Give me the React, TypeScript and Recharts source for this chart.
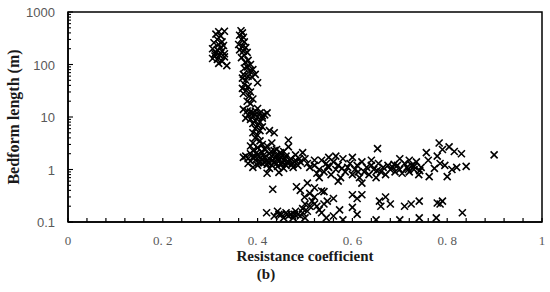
import React from 'react';
import {
  ScatterChart, Scatter, XAxis, YAxis, ReferenceArea,
} from 'recharts';

// [resistance coefficient, bedform length (m)], grouped by cluster
const leftColumn: [number, number][] = [
  [0.318, 420], [0.33, 430], [0.312, 380], [0.322, 350], [0.308, 260], [0.318, 240],
  [0.328, 230], [0.305, 200], [0.315, 190], [0.325, 180], [0.31, 160], [0.32, 150],
  [0.33, 140], [0.305, 130], [0.315, 125], [0.325, 115], [0.318, 105], [0.335, 95],
  [0.33, 160], [0.312, 170], [0.322, 210], [0.31, 145], [0.325, 270], [0.315, 300],
];

const upperColumn: [number, number][] = [
  [0.365, 440], [0.368, 400], [0.362, 360], [0.37, 330], [0.366, 300], [0.372, 270],
  [0.36, 240], [0.368, 220], [0.375, 210], [0.362, 190], [0.37, 180], [0.378, 170],
  [0.372, 150], [0.366, 135], [0.38, 120], [0.374, 110], [0.385, 100], [0.378, 90],
  [0.39, 80], [0.383, 75], [0.395, 65], [0.388, 58], [0.368, 55], [0.375, 50],
  [0.4, 45], [0.372, 42], [0.38, 38], [0.368, 35], [0.376, 32], [0.385, 30],
  [0.37, 28], [0.382, 25], [0.39, 22], [0.378, 20], [0.385, 18], [0.37, 65],
  [0.38, 60], [0.372, 85],
];

const midColumn: [number, number][] = [
  [0.37, 14], [0.378, 13], [0.385, 12.5], [0.395, 13], [0.405, 12], [0.415, 11],
  [0.38, 11], [0.39, 10.5], [0.4, 10], [0.41, 9.5], [0.375, 9.5], [0.385, 9],
  [0.395, 8.5], [0.405, 8], [0.39, 7.5], [0.4, 7], [0.41, 6.5], [0.395, 6],
  [0.405, 5.5], [0.425, 5.5], [0.435, 5], [0.39, 5], [0.4, 4.5], [0.395, 4],
  [0.405, 3.5], [0.39, 3.2], [0.41, 3], [0.385, 2.8], [0.4, 2.6], [0.415, 2.5],
  [0.42, 12], [0.4, 14.5], [0.39, 12], [0.41, 10.5], [0.395, 11],
];

const mainBlob: [number, number][] = [
  [0.375, 1.8], [0.38, 1.6], [0.385, 2.0], [0.39, 2.3], [0.395, 1.5], [0.4, 1.9],
  [0.405, 1.4], [0.41, 2.1], [0.415, 1.7], [0.42, 1.5], [0.425, 2.0], [0.43, 1.8],
  [0.435, 1.4], [0.44, 1.9], [0.445, 1.6], [0.45, 1.7], [0.455, 1.5], [0.46, 1.8],
  [0.465, 1.4], [0.47, 1.6], [0.475, 1.3], [0.48, 1.5], [0.485, 1.2], [0.49, 1.4],
  [0.4, 1.2], [0.41, 1.3], [0.42, 1.25], [0.43, 1.2], [0.44, 1.3], [0.45, 1.25],
  [0.46, 1.2], [0.38, 1.3], [0.39, 1.1], [0.42, 0.85], [0.445, 0.88], [0.4, 2.6],
  [0.42, 2.8], [0.43, 3.2], [0.44, 2.4], [0.455, 2.2], [0.465, 3.6], [0.465, 2.7],
  [0.48, 1.9], [0.495, 2.1], [0.5, 1.6], [0.505, 1.3], [0.51, 1.1], [0.52, 1.5],
  [0.415, 2.4], [0.435, 2.3], [0.37, 1.7], [0.475, 1.1], [0.39, 1.7], [0.45, 2.0],
  [0.425, 1.05],
];

const blobCore: [number, number][] = [
  [0.395, 1.75], [0.405, 1.65], [0.412, 1.85], [0.418, 1.45], [0.425, 1.6], [0.432, 1.5],
  [0.438, 1.7], [0.445, 1.45], [0.452, 1.35], [0.458, 1.6], [0.468, 1.5], [0.478, 1.4],
  [0.402, 1.35], [0.422, 1.35], [0.442, 1.15], [0.462, 1.35], [0.385, 1.45], [0.41, 1.55],
  [0.428, 2.2], [0.448, 2.1], [0.398, 2.1], [0.488, 1.6], [0.472, 1.25], [0.455, 1.05],
];

const midBand: [number, number][] = [
  [0.52, 1.2], [0.53, 1.0], [0.535, 1.5], [0.54, 0.9], [0.545, 1.3], [0.55, 1.1],
  [0.555, 0.8], [0.56, 1.4], [0.565, 1.0], [0.57, 1.2], [0.575, 0.7], [0.58, 1.6],
  [0.585, 0.9], [0.59, 1.1], [0.595, 1.3], [0.6, 0.8], [0.605, 1.0], [0.61, 1.2],
  [0.615, 0.7], [0.62, 1.4], [0.625, 0.9], [0.63, 1.1], [0.635, 0.8], [0.64, 1.2],
  [0.645, 1.0], [0.65, 0.7], [0.655, 1.3], [0.66, 0.9], [0.665, 1.1], [0.67, 0.8],
  [0.675, 1.2], [0.68, 1.0], [0.685, 1.1], [0.69, 0.9], [0.695, 1.2], [0.7, 1.0],
  [0.705, 0.85], [0.71, 1.3], [0.715, 1.1], [0.72, 0.9], [0.725, 1.2], [0.73, 1.0],
  [0.735, 1.4], [0.74, 0.8], [0.745, 1.1], [0.55, 1.7], [0.565, 1.8], [0.6, 1.7],
  [0.64, 1.5], [0.53, 0.7], [0.57, 0.6], [0.62, 0.55], [0.7, 1.6], [0.72, 1.5],
  [0.525, 0.85], [0.548, 1.15], [0.578, 1.05], [0.612, 0.9], [0.652, 0.95], [0.688, 1.25],
  [0.718, 1.0], [0.73, 1.15], [0.742, 0.95],
];

const rightUpper: [number, number][] = [
  [0.653, 2.5], [0.756, 2.1], [0.779, 1.8], [0.783, 3.2], [0.79, 2.4], [0.804, 2.7],
  [0.815, 2.2], [0.83, 2.0], [0.899, 1.9], [0.84, 1.15], [0.8, 0.73], [0.762, 0.73],
  [0.81, 1.0], [0.773, 1.05], [0.795, 1.2], [0.82, 1.1], [0.76, 1.5], [0.785, 1.3],
];

const lowerGroup: [number, number][] = [
  [0.432, 0.42], [0.419, 0.15], [0.442, 0.16], [0.435, 0.13], [0.45, 0.14], [0.455, 0.12],
  [0.46, 0.15], [0.465, 0.13], [0.47, 0.14], [0.475, 0.12], [0.48, 0.16], [0.485, 0.14],
  [0.49, 0.13], [0.495, 0.18], [0.5, 0.22], [0.505, 0.16], [0.51, 0.2], [0.515, 0.25],
  [0.52, 0.3], [0.525, 0.2], [0.53, 0.17], [0.535, 0.15], [0.54, 0.22], [0.545, 0.12],
  [0.482, 0.47], [0.499, 0.3], [0.49, 0.4], [0.505, 0.55], [0.51, 0.35], [0.52, 0.45],
  [0.535, 0.39], [0.547, 0.25], [0.52, 0.22], [0.54, 0.38], [0.56, 0.28], [0.573, 0.17],
  [0.6, 0.33], [0.62, 0.33], [0.61, 0.28], [0.657, 0.25], [0.6, 0.19], [0.61, 0.14],
  [0.66, 0.2], [0.67, 0.3], [0.68, 0.22], [0.71, 0.2], [0.7, 0.11], [0.724, 0.22],
  [0.741, 0.25], [0.779, 0.23], [0.79, 0.25], [0.785, 0.22], [0.832, 0.15], [0.741, 0.12],
  [0.777, 0.12], [0.65, 0.11], [0.58, 0.11], [0.56, 0.13], [0.5, 0.12],
  [0.445, 0.14], [0.462, 0.14], [0.478, 0.14], [0.495, 0.15],
];

const allGroups = [leftColumn, upperColumn, midColumn, mainBlob, blobCore, midBand, rightUpper, lowerGroup];

const yMajor = [0.1, 1, 10, 100, 1000];
const yMinorSteps = [2, 3, 4, 5, 6, 7, 8, 9];
const xLabels: Record<string, string> = { '0': '0', '0.2': '0. 2', '0.4': '0. 4', '0.6': '0. 6', '0.8': '0. 8', '1': '1' };

const yTicks: number[] = [];
yMajor.forEach((m, i) => {
  yTicks.push(m);
  if (i < yMajor.length - 1) yMinorSteps.forEach((s) => yTicks.push(+(m * s).toPrecision(3)));
});
const xTicks = Array.from({ length: 26 }, (_, i) => +(i * 0.04).toFixed(2));

const points = allGroups.flat().map(([x, y]) => ({ x, y }));

const Cross = ({ cx, cy }: any) => {
  if (cx == null || cy == null) return null;
  const r = 3.5;
  return (
    <path
      d={`M${cx - r},${cy - r}L${cx + r},${cy + r}M${cx - r},${cy + r}L${cx + r},${cy - r}`}
      stroke="#000"
      strokeWidth={1.6}
      fill="none"
    />
  );
};

const XTick = ({ x, y, payload }: any) => {
  const label = xLabels[String(payload.value)];
  return (
    <g>
      <line x1={x} y1={y} x2={x} y2={y - 4} stroke="#000" strokeWidth={1.2} />
      {label && (
        <text x={x} y={y + 23} textAnchor="middle" fill="#595959"
          style={{ fontFamily: '"Liberation Serif", serif', fontSize: 13 }}>
          {label}
        </text>
      )}
    </g>
  );
};

const YTick = ({ x, y, payload }: any) => {
  const major = yMajor.includes(payload.value);
  return (
    <g>
      <line x1={x} y1={y} x2={x + (major ? 5 : 3)} y2={y} stroke="#000" strokeWidth={1.1} />
      {major && (
        <text x={x - 13} y={y + 5} textAnchor="end" fill="#595959"
          style={{ fontFamily: '"Liberation Sans", sans-serif', fontSize: 13 }}>
          {payload.value}
        </text>
      )}
    </g>
  );
};

const titleFont: React.CSSProperties = {
  position: 'absolute',
  fontFamily: '"Liberation Serif", serif',
  fontWeight: 'bold',
  fontSize: 15,
  color: '#1a1a1a',
  whiteSpace: 'nowrap',
};

export default function App() {
  return (
    <div style={{ position: 'relative', width: 550, height: 292, background: '#fff' }}>
      <style>{'body{margin:0}'}</style>
      <ScatterChart width={550} height={292} margin={{ top: 12, right: 8, bottom: 40, left: 8 }}>
        <XAxis
          type="number"
          dataKey="x"
          domain={[0, 1]}
          ticks={xTicks}
          interval={0}
          height={30}
          tickSize={0}
          tickMargin={0}
          tickLine={false}
          axisLine={{ stroke: '#000', strokeWidth: 1.5 }}
          tick={<XTick />}
        />
        <YAxis
          type="number"
          dataKey="y"
          scale="log"
          domain={[0.1, 1000]}
          allowDataOverflow
          ticks={yTicks}
          interval={0}
          width={60}
          tickSize={0}
          tickMargin={0}
          tickLine={false}
          axisLine={{ stroke: '#000', strokeWidth: 1.5 }}
          tick={<YTick />}
        />
        <ReferenceArea x1={0} x2={1} y1={0.1} y2={1000} fill="none" stroke="#000" strokeWidth={1.5} ifOverflow="visible" />
        <Scatter data={points} shape={<Cross />} isAnimationActive={false} />
      </ScatterChart>
      <div style={{ ...titleFont, left: 305, top: 256, transform: 'translate(-50%, -50%)' }}>
        Resistance coefficient
      </div>
      <div style={{ ...titleFont, left: 266, top: 274, transform: 'translate(-50%, -50%)' }}>
        (b)
      </div>
      <div style={{ ...titleFont, fontSize: 16, left: 14, top: 117, transform: 'translate(-50%, -50%) rotate(-90deg)' }}>
        Bedform length (m)
      </div>
    </div>
  );
}
